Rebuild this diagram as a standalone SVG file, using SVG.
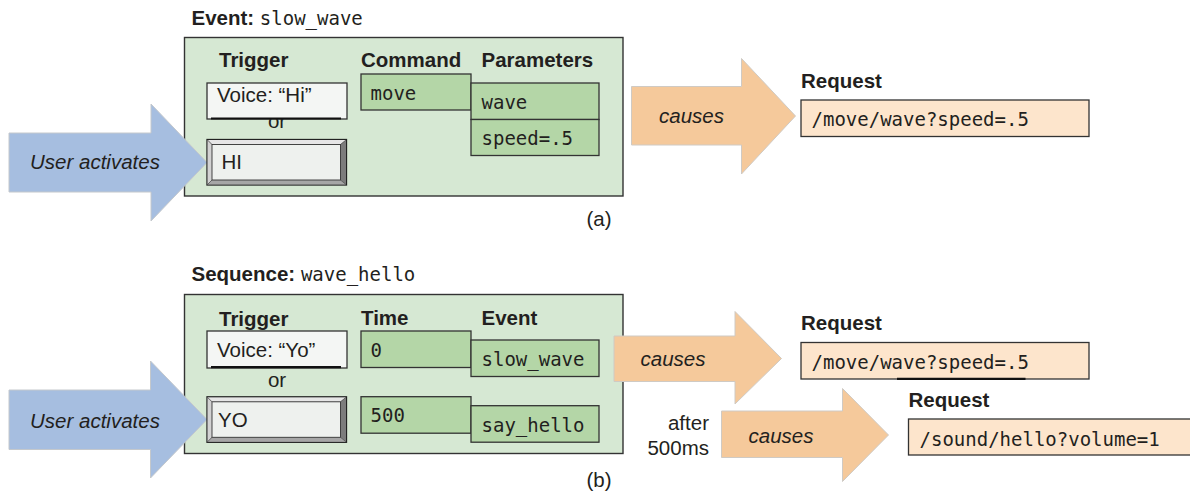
<svg xmlns="http://www.w3.org/2000/svg" xmlns:xlink="http://www.w3.org/1999/xlink" width="1190" height="500" viewBox="0 0 1190 500">
<style>
  .sans { font-family: "Liberation Sans", Arial, sans-serif; fill: #231f20; }
  .bold { font-family: "Liberation Sans", Arial, sans-serif; font-weight: bold; font-size: 20.5px; fill: #231f20; }
  .lbl { font-family: "Liberation Sans", Arial, sans-serif; font-size: 20.5px; fill: #231f20; }
  .ital { font-family: "Liberation Sans", Arial, sans-serif; font-style: italic; font-size: 20.5px; fill: #231f20; }
  .mono { font-family: "DejaVu Sans Mono", "Liberation Mono", monospace; font-size: 19px; fill: #231f20; }
  .panel { fill: #d6e8d3; stroke: #333; stroke-width: 1.4; }
  .cell { fill: #b4d6a7; stroke: #333; stroke-width: 1.3; }
  .voice { fill: #f4f6f4; stroke: #333; stroke-width: 1.3; }
  .req { fill: #fde5cc; stroke: #333; stroke-width: 1.3; }
  .blue { fill: #a6bee0; stroke: #c4c8cc; stroke-width: 1; }
  .orange { fill: #f5c99b; stroke: #cfcac4; stroke-width: 1; }
  .under { stroke: #111; stroke-width: 2.2; }
</style>
<defs>
  <g id="btn">
    <rect x="0" y="0" width="139.5" height="45.5" fill="#999" stroke="#222" stroke-width="1.3"/>
    <polygon points="0.6,0.6 138.9,0.6 133.5,5 5,5" fill="#e6e6e6"/>
    <polygon points="0.6,0.6 5,5 5,40.5 0.6,44.9" fill="#d2d2d2"/>
    <polygon points="138.9,0.6 138.9,44.9 133.5,40.5 133.5,5" fill="#7c7c7c"/>
    <polygon points="0.6,44.9 5,40.5 133.5,40.5 138.9,44.9" fill="#a6a6a6"/>
    <line x1="0.6" y1="0.6" x2="5" y2="5" stroke="#555" stroke-width="0.8"/>
    <line x1="138.9" y1="0.6" x2="133.5" y2="5" stroke="#555" stroke-width="0.8"/>
    <line x1="0.6" y1="44.9" x2="5" y2="40.5" stroke="#555" stroke-width="0.8"/>
    <line x1="138.9" y1="44.9" x2="133.5" y2="40.5" stroke="#555" stroke-width="0.8"/>
    <rect x="5" y="5" width="128.5" height="35.5" fill="#eef1ee" stroke="#333" stroke-width="0.9"/>
  </g>
</defs>

<!-- Panel (a) -->
<g id="panel-a">
  <text x="191.5" y="25" class="bold">Event: <tspan class="mono" style="font-weight:normal">slow_wave</tspan></text>
  <rect x="184.5" y="37.5" width="438.5" height="158.5" class="panel"/>
  <text x="219" y="67" class="bold">Trigger</text>
  <text x="361" y="67" class="bold">Command</text>
  <text x="481.5" y="67" class="bold">Parameters</text>
  <text x="277" y="128" class="lbl" text-anchor="middle">or</text>
</g>

<!-- Panel (b) -->
<g id="panel-b">
  <text x="191.5" y="281" class="bold">Sequence: <tspan class="mono" style="font-weight:normal">wave_hello</tspan></text>
  <rect x="184.5" y="294.5" width="438.5" height="159" class="panel"/>
  <text x="219" y="325.5" class="bold">Trigger</text>
  <text x="361" y="324.5" class="bold">Time</text>
  <text x="481.5" y="324.5" class="bold">Event</text>
  <text x="277" y="387" class="lbl" text-anchor="middle">or</text>
</g>

<!-- Connectors (block arrows) -->
<g id="connectors">
  <polygon class="blue" points="9,133 151,133 151,104 207,162.5 151,221 151,192 9,192"/>
  <text x="30" y="168.5" class="ital">User activates</text>
  <polygon class="blue" points="9,390 150.5,390 150.5,361 207,419.5 150.5,478 150.5,449.5 9,449.5"/>
  <text x="30" y="428" class="ital">User activates</text>
  <polygon class="orange" points="631.5,86.5 741.5,86.5 741.5,58.5 795.5,116 741.5,174 741.5,145 631.5,145"/>
  <text x="659" y="123" class="ital">causes</text>
  <polygon class="orange" points="614,336 735,336 735,311.5 781.5,358.5 735,404 735,381.5 614,381.5"/>
  <text x="640.5" y="365.5" class="ital">causes</text>
  <polygon class="orange" points="721.5,411 842.5,411 842.5,388.5 888.5,435 842.5,481.5 842.5,457.5 721.5,457.5"/>
  <text x="748.5" y="442.5" class="ital">causes</text>
  <text x="709" y="429.5" class="lbl" text-anchor="end">after</text>
  <text x="709" y="454.5" class="lbl" text-anchor="end">500ms</text>
</g>

<!-- Nodes (a) -->
<g id="trigger-voice-hi">
  <rect x="207" y="83" width="140" height="36" class="voice"/>
  <line x1="211" y1="118.5" x2="341" y2="118.5" class="under"/>
  <text x="217" y="102" class="lbl">Voice: “Hi”</text>
</g>
<g id="trigger-button-hi">
  <use xlink:href="#btn" href="#btn" transform="translate(207,139.5)"/>
  <text x="221.5" y="168.5" class="lbl">HI</text>
</g>
<g id="command-move">
  <rect x="361" y="74" width="110" height="36" class="cell"/>
  <text x="370.5" y="100" class="mono">move</text>
</g>
<g id="param-wave">
  <rect x="471" y="83" width="128" height="36.5" class="cell"/>
  <text x="481.5" y="109" class="mono">wave</text>
</g>
<g id="param-speed">
  <rect x="471" y="119.5" width="128" height="36" class="cell"/>
  <text x="481.5" y="145" class="mono">speed=.5</text>
</g>
<g id="request-a">
  <text x="801" y="88" class="bold">Request</text>
  <rect x="801" y="100" width="288" height="36.5" class="req"/>
  <text x="811.5" y="126" class="mono">/move/wave?speed=.5</text>
</g>
<text x="599" y="226" class="lbl" text-anchor="middle">(a)</text>

<!-- Nodes (b) -->
<g id="trigger-voice-yo">
  <rect x="207" y="331" width="140" height="37" class="voice"/>
  <line x1="211" y1="367.2" x2="341" y2="367.2" class="under"/>
  <text x="217" y="357" class="lbl">Voice: “Yo”</text>
</g>
<g id="trigger-button-yo">
  <use xlink:href="#btn" href="#btn" transform="translate(207,396.8)"/>
  <text x="218" y="427" class="lbl">YO</text>
</g>
<g id="time-0">
  <rect x="361" y="331" width="110" height="36.5" class="cell"/>
  <text x="370.5" y="356.5" class="mono">0</text>
</g>
<g id="event-slow-wave">
  <rect x="471" y="340" width="128" height="36.5" class="cell"/>
  <text x="481.5" y="366" class="mono">slow_wave</text>
</g>
<g id="time-500">
  <rect x="361" y="396.7" width="110" height="36.5" class="cell"/>
  <text x="370.5" y="421.5" class="mono">500</text>
</g>
<g id="event-say-hello">
  <rect x="471" y="405.7" width="128" height="36.5" class="cell"/>
  <text x="481.5" y="431.5" class="mono">say_hello</text>
</g>
<g id="request-b1">
  <text x="801" y="330" class="bold">Request</text>
  <rect x="801" y="342.5" width="288" height="36.5" class="req"/>
  <line x1="897" y1="378.8" x2="1025.5" y2="378.8" class="under"/>
  <text x="811.5" y="368.5" class="mono">/move/wave?speed=.5</text>
</g>
<g id="request-b2">
  <text x="908.5" y="406.5" class="bold">Request</text>
  <rect x="908.5" y="419" width="290" height="36" class="req"/>
  <text x="919.5" y="445.5" class="mono">/sound/hello?volume=1</text>
</g>
<text x="599" y="487" class="lbl" text-anchor="middle">(b)</text>
</svg>
